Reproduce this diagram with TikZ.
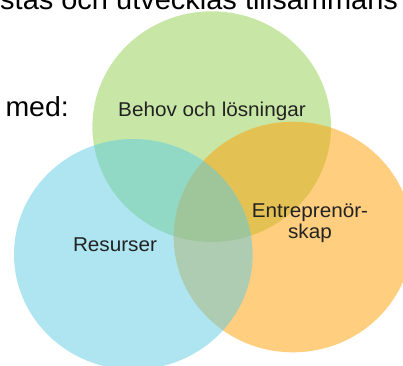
\documentclass[tikz,border=0pt]{standalone}
\usepackage{fontspec}
\setmainfont{Liberation Sans}
\definecolor{vgreen}{RGB}{146,208,80}
\definecolor{vblue}{RGB}{93,203,227}
\definecolor{vorange}{RGB}{255,157,0}
\definecolor{labelgray}{RGB}{34,34,34}
\begin{document}
\begin{tikzpicture}[x=1pt,y=-1pt,
  blob/.style={fill opacity=0.5, draw=none},
  lbl/.style={font=\fontsize{20}{21}\selectfont, text=labelgray, xscale=1.035, transform shape, inner sep=0pt, align=center},
  headtxt/.style={text=black, xscale=1.035, transform shape, inner sep=0pt}
]
\useasboundingbox (0,0) rectangle (403,365);
\clip (0,0) rectangle (403,365);
\fill[vgreen, blob] (211.7,126.6) ellipse [x radius=119.3, y radius=115.3];
\fill[vorange, blob] (293,237) ellipse [x radius=119.3, y radius=115.3];
\fill[vblue, blob] (133.3,254.3) ellipse [x radius=119.3, y radius=115.3];
\node[headtxt, font=\fontsize{28}{30}\selectfont, anchor=base west] (head) at (0,9.3) {stas och utvecklas tillsammans};
\node[headtxt, font=\fontsize{27.5}{29}\selectfont, anchor=base east] (med) at (69,116.7) {med:};
\node[lbl, anchor=base] (behov) at (212,116) {Behov och lösningar};
\node[lbl, anchor=base] (resurser) at (115,251.7) {Resurser};
\node[lbl, anchor=base] (entre) at (310,238.3) {Entreprenör-\\skap};
\end{tikzpicture}
\end{document}
